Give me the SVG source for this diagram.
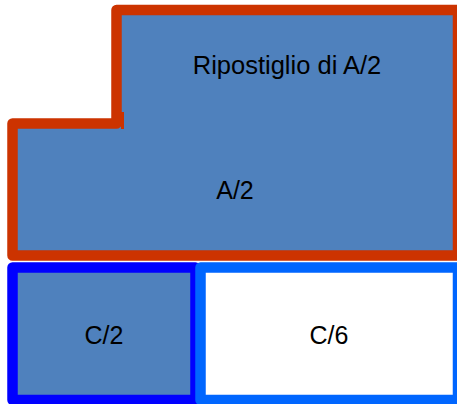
<svg xmlns="http://www.w3.org/2000/svg" width="457" height="404" viewBox="0 0 457 404">
  <style>
    .room { fill: #4f81bd; stroke-width: 10.5; stroke-linejoin: round; }
    .label { font-family: "Liberation Sans", Arial, sans-serif; font-size: 25px; fill: #000; text-anchor: middle; }
  </style>
  <rect width="457" height="404" fill="#ffffff"/>
  <g id="a2">
    <path class="room" stroke="#cc3300" d="M12.5,255.5 V123.5 H116.5 V10 H458 V255.5 Z"/>
    <rect x="121" y="112" width="3" height="17" fill="#cc3300"/>
    <text class="label" x="287" y="74" style="font-size:25.5px">Ripostiglio di A/2</text>
    <text class="label" x="235" y="199">A/2</text>
  </g>
  <g id="c2">
    <rect class="room" stroke="#0000ff" x="12.5" y="267.5" width="183" height="132.5"/>
    <text class="label" x="104" y="344">C/2</text>
  </g>
  <g id="c6">
    <rect class="room" stroke="#0066ff" style="fill:#ffffff" x="200.5" y="267.5" width="257.5" height="132.5"/>
    <text class="label" x="329" y="344">C/6</text>
  </g>
  <g id="connectors"/>
</svg>
